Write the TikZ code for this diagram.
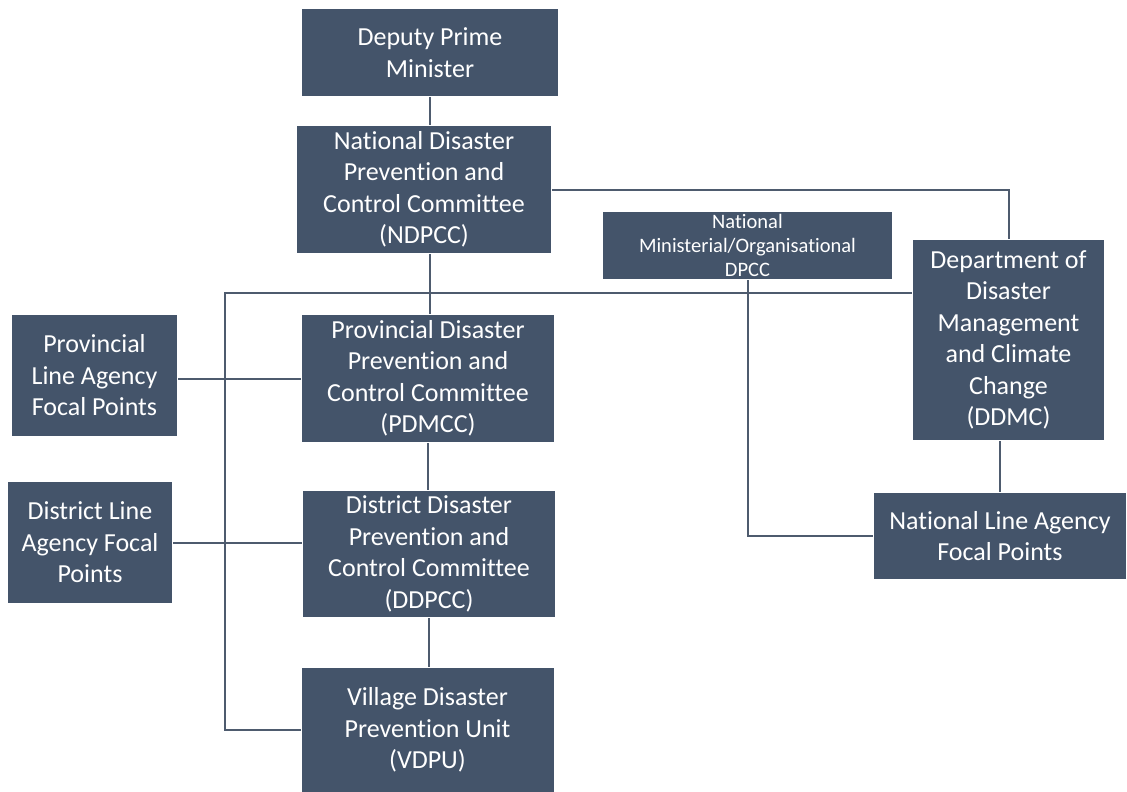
\documentclass[tikz,border=0pt]{standalone}
\usepackage{fontspec}
\setmainfont{Carlito}[Ligatures=NoCommon]
\usepackage{tikz}
\usetikzlibrary{positioning}

\definecolor{slate}{HTML}{44546A}
\definecolor{wire}{HTML}{4E5B6E}

\tikzset{
  unit/.style = {rectangle, fill = slate, inner sep = 0pt},
  lbl/.style = {text = white, align = center, inner sep = 0pt,
                font = \fontsize{26}{31.5}\selectfont},
  small/.style = {font = \fontsize{20.5}{24}\selectfont}
}

\begin{document}
\begin{tikzpicture}[x=1pt, y=-1pt, line width = 2pt, draw = wire]

  \useasboundingbox (0,0) rectangle (1127,792);

  \node[unit,
        minimum width = 256pt,
        minimum height = 87pt
        ] (dpm) at (430,52.5) {};
  \node[lbl] at (dpm.center) {Deputy Prime\\Minister};

  \node[unit,
        minimum width = 254pt,
        minimum height = 127pt
        ] (ndpcc) at (424,189.5) {};
  \node[lbl] at (ndpcc.center) {National Disaster\\Prevention and\\Control Committee\\(NDPCC)};

  \node[unit,
        minimum width = 289pt,
        minimum height = 67pt
        ] (minis) at (747.5,245.5) {};
  \node[lbl, small] at (minis.center) {National\\Ministerial/Organisational\\DPCC};

  \node[unit,
        minimum width = 191pt,
        minimum height = 200pt
        ] (ddmc) at (1008.5,340) {};
  \node[lbl] at (ddmc.center) {Department of\\Disaster\\Management\\and Climate\\Change\\(DDMC)};

  \node[unit,
        minimum width = 165pt,
        minimum height = 121pt
        ] (prov) at (94.5,375.5) {};
  \node[lbl] at (prov.center) {Provincial\\Line Agency\\Focal Points};

  \node[unit,
        minimum width = 252pt,
        minimum height = 127pt
        ] (pdmcc) at (428,378.5) {};
  \node[lbl] at (pdmcc.center) {Provincial Disaster\\Prevention and\\Control Committee\\(PDMCC)};

  \node[unit,
        minimum width = 164pt,
        minimum height = 121pt
        ] (dist) at (90,542.5) {};
  \node[lbl] at (dist.center) {District Line\\Agency Focal\\Points};

  \node[unit,
        minimum width = 252pt,
        minimum height = 126pt
        ] (ddpcc) at (429,554) {};
  \node[lbl] at (ddpcc.center) {District Disaster\\Prevention and\\Control Committee\\(DDPCC)};

  \node[unit,
        minimum width = 252pt,
        minimum height = 86pt
        ] (nla) at (1000,536) {};
  \node[lbl] at (nla.center) {National Line Agency\\Focal Points};

  \node[unit,
        minimum width = 252pt,
        minimum height = 124pt
        ] (vdpu) at (427.5,730) {};
  \node[lbl] at (vdpu.center) {Village Disaster\\Prevention Unit\\(VDPU)};

  \coordinate (bus) at (225,293);

  %national level
  \draw (dpm.south) -- (dpm.south |- ndpcc.north);
  \draw (ndpcc.east) -| (ddmc.north);
  \draw (dpm.south |- ndpcc.south) -- (dpm.south |- pdmcc.north);
  \draw (minis.south) |- (nla.west);
  \draw (nla.north |- ddmc.south) -- (nla.north);
  %left spine
  \draw (ddmc.west |- bus) -- (bus) |- (vdpu.west);
  %local levels
  \draw (prov.east |- pdmcc.west) -- (pdmcc.west);
  \draw (dist.east) -- (dist.east -| ddpcc.west);
  \draw (pdmcc.south) -- (pdmcc.south |- ddpcc.north);
  \draw (ddpcc.south) -- (ddpcc.south |- vdpu.north);

\end{tikzpicture}
\end{document}
